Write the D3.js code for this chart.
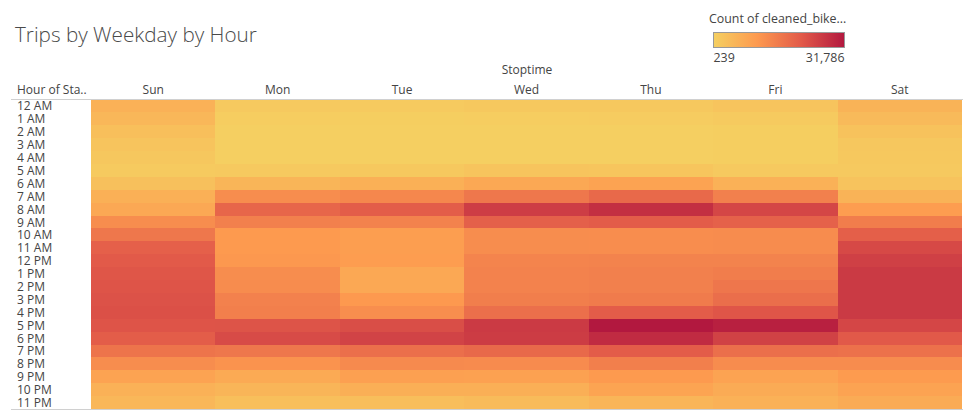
<!DOCTYPE html>
<html>
<head>
<meta charset="utf-8">
<script src="https://cdn.jsdelivr.net/npm/d3@7"></script>
<style>
  html, body { margin: 0; padding: 0; background: #fff; }
  svg { display: block; }
  text { font-family: "Open Sans", "Noto Sans", sans-serif; fill: #444; }
</style>
</head>
<body>
<svg id="chart" width="971" height="420"></svg>
<script>
const days = ['Sun', 'Mon', 'Tue', 'Wed', 'Thu', 'Fri', 'Sat'];
const hours = ['12 AM', '1 AM', '2 AM', '3 AM', '4 AM', '5 AM', '6 AM', '7 AM', '8 AM', '9 AM', '10 AM', '11 AM',
  '12 PM', '1 PM', '2 PM', '3 PM', '4 PM', '5 PM', '6 PM', '7 PM', '8 PM', '9 PM', '10 PM', '11 PM'];

// counts, one list per weekday (12 AM .. 11 PM)
const sun = [6200, 5000, 3600, 2500, 1900, 1300, 3400, 6500, 8000, 12900, 16500, 20300, 21300, 22000, 22300, 22600, 23000, 22300, 20800, 17000, 12900, 9000, 6300, 5000];
const mon = [1600, 900, 500, 350, 350, 1500, 5500, 12900, 19300, 15000, 10700, 10700, 11000, 12900, 13000, 14800, 15200, 22400, 23700, 16500, 11800, 7500, 5500, 3500];
const tue = [1300, 700, 450, 350, 350, 1700, 6500, 13900, 20900, 14700, 9800, 9800, 10100, 8000, 8000, 10800, 12700, 23300, 25000, 17800, 13300, 9400, 6600, 3700];
const wed = [1700, 900, 400, 350, 400, 2500, 8000, 16500, 26000, 20400, 12900, 12900, 14300, 14600, 14600, 15300, 17800, 26400, 26100, 18800, 13200, 9300, 6600, 4300];
const thu = [1800, 1000, 400, 350, 400, 2300, 9000, 18900, 28200, 21000, 12800, 12800, 14500, 15000, 15000, 15800, 21000, 31786, 28800, 21000, 15200, 10700, 8700, 5400];
const fri = [2600, 1400, 700, 600, 550, 1500, 6200, 15000, 24500, 20200, 13000, 13000, 14500, 15500, 16600, 18000, 22100, 30500, 25200, 17800, 13000, 9000, 7300, 6200];
const sat = [5900, 4500, 3000, 2000, 1700, 1600, 2700, 5800, 10000, 15500, 20500, 24000, 25500, 26500, 26500, 26500, 26500, 24500, 21500, 17500, 13000, 10400, 9000, 7300];
const counts = [sun, mon, tue, wed, thu, fri, sat];
const colorStops = ['#f5d061', '#fd9a4f', '#e25a49', '#b2183f'];
const minCount = 239;
const maxCount = 31786;

const svg = d3.select('#chart');

const x = d3.scaleBand().domain(days).range([91, 962]);
const y = d3.scaleBand().domain(hours).range([99.5, 409]);
const color = d3.scaleLinear()
  .domain([0, 0.33, 0.67, 1].map((t) => minCount + t * (maxCount - minCount)))
  .range(colorStops);

svg.append('text')
  .attr('x', 15).attr('y', 42)
  .style('font-size', '20.7px').style('font-weight', 300).style('fill', '#4a4a4a')
  .text('Trips by Weekday by Hour');

// cells
days.forEach((day, i) => {
  svg.append('g').selectAll('rect')
    .data(counts[i])
    .join('rect')
    .attr('x', x(day))
    .attr('y', (d, j) => y(hours[j]))
    .attr('width', x.bandwidth())
    .attr('height', y.bandwidth())
    .attr('shape-rendering', 'crispEdges')
    .attr('fill', (d) => color(d));
});

// column headers
svg.append('text').attr('x', 527).attr('y', 74).attr('text-anchor', 'middle')
  .style('font-size', '12px').text('Stoptime');
svg.append('text').attr('x', 17).attr('y', 94)
  .style('font-size', '12px').text('Hour of Sta..');
svg.append('g').selectAll('text')
  .data(days)
  .join('text')
  .attr('x', (d) => x(d) + x.bandwidth() / 2)
  .attr('y', 94)
  .attr('text-anchor', 'middle')
  .style('font-size', '12px')
  .text((d) => d);

// row labels
svg.append('g').selectAll('text')
  .data(hours)
  .join('text')
  .attr('x', 17)
  .attr('y', (d) => y(d) + y.bandwidth() / 2 + 4.5)
  .style('font-size', '12px')
  .text((d) => d);

// header and bottom rules
svg.append('line').attr('x1', 11).attr('x2', 963).attr('y1', 99).attr('y2', 99)
  .attr('stroke', '#d0d0d0').attr('stroke-width', 1).attr('shape-rendering', 'crispEdges');
svg.append('line').attr('x1', 11).attr('x2', 963).attr('y1', 409.5).attr('y2', 409.5)
  .attr('stroke', '#d0d0d0').attr('stroke-width', 1).attr('shape-rendering', 'crispEdges');

// legend
const legendScale = d3.scaleLinear().domain([minCount, maxCount]).range([713.5, 844.5]);
const grad = svg.append('defs').append('linearGradient').attr('id', 'legend-grad');
colorStops.forEach((c, i) => {
  grad.append('stop').attr('offset', color.domain().map((v) => (v - minCount) / (maxCount - minCount))[i]).attr('stop-color', c);
});
svg.append('rect')
  .attr('x', legendScale(minCount)).attr('y', 32.5)
  .attr('width', legendScale(maxCount) - legendScale(minCount)).attr('height', 15)
  .attr('fill', 'url(#legend-grad)')
  .attr('stroke', '#999').attr('stroke-width', 1);
svg.append('text').attr('x', 709).attr('y', 23)
  .style('font-size', '12.4px').text('Count of cleaned_bike...');
svg.append('text').attr('x', legendScale(minCount)).attr('y', 62)
  .style('font-size', '12.4px').text(d3.format(',')(minCount));
svg.append('text').attr('x', legendScale(maxCount)).attr('y', 62).attr('text-anchor', 'end')
  .style('font-size', '12.4px').text(d3.format(',')(maxCount));
</script>
</body>
</html>
